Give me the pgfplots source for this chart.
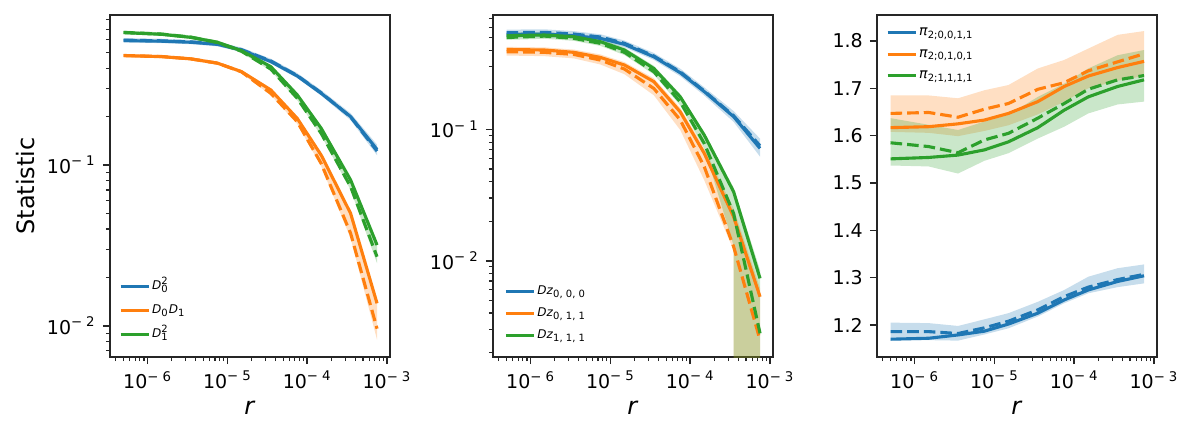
\documentclass[border=0pt]{standalone}
\usepackage{fontspec}
\setmainfont{DejaVu Sans}
\usepackage{pgfplots}
\pgfplotsset{compat=1.18}

\definecolor{tabblue}{HTML}{1F77B4}
\definecolor{taborange}{HTML}{FF7F0E}
\definecolor{tabgreen}{HTML}{2CA02C}

\newcommand{\expl}{10\textsuperscript{−\hspace{0.3em}\pgfmathparse{int(round(-\tick/2.302585093))}\pgfmathresult}}

\pgfplotsset{
  mypanel/.style={
    scale only axis, width=140pt, height=171pt,
    xmin=3.38e-7, xmax=1.09e-3,
    axis line style={line width=0.8pt, black!85},
    tick pos=left, tick align=outside,
    major tick length=3.6pt, minor tick length=2.1pt,
    major tick style={line width=0.8pt, black!85},
    minor tick style={line width=0.6pt, black!85},
    tick label style={font=\fontsize{9.5}{11}\selectfont},
    xticklabel={\expl},
    xlabel={\textit{r}},
    every axis x label/.style={at={(axis description cs:0.5,-0.149)}, anchor=center, font=\fontsize{12}{14}\selectfont},
    legend image code/.code={\draw[##1] (0pt,0pt) -- (14pt,0pt);},
    legend style={draw=none, fill=none, inner sep=0pt, font=\fontsize{6}{7}\selectfont,
      nodes={inner sep=1pt, text height=5pt, text depth=2pt}},
    legend cell align=left,
  },
  myband/.style={draw=none, fill=#1, fill opacity=0.25, forget plot},
  mysolid/.style={#1, line width=1.56pt},
  mydash/.style={#1, line width=1.56pt, dash pattern=on 5.8pt off 2.5pt, forget plot},
}

\begin{document}
\begin{tikzpicture}
\useasboundingbox (-55pt,-43.5pt) rectangle (541.5pt,178.5pt);

% ---- panel 1
\begin{axis}[mypanel, xmode=log, ymode=log, at={(0pt,0pt)}, anchor=south west,
  ymin=0.0064, ymax=0.857, yticklabel={\expl},
  ylabel={Statistic},
  every axis y label/.style={at={(axis description cs:-0.3,0.5)}, rotate=90, anchor=center, font=\fontsize{12}{14}\selectfont},
  legend style={at={(0.031,0.038)}, anchor=south west, row sep=3pt}]
\addplot[myband=tabblue] coordinates {(5e-7,0.615) (1.5e-6,0.610) (3.5e-6,0.600) (7.5e-6,0.583) (1.5e-5,0.538) (3.5e-5,0.458) (7.5e-5,0.373) (1.5e-4,0.292) (3.5e-4,0.210) (7.5e-4,0.134)
  (7.5e-4,0.115) (3.5e-4,0.190) (1.5e-4,0.270) (7.5e-5,0.347) (3.5e-5,0.427) (1.5e-5,0.504) (7.5e-6,0.547) (3.5e-6,0.564) (1.5e-6,0.573) (5e-7,0.578)} -- cycle;
\addplot[myband=taborange] coordinates {(5e-7,0.490) (1.5e-6,0.483) (3.5e-6,0.468) (7.5e-6,0.440) (1.5e-5,0.390) (3.5e-5,0.300) (7.5e-5,0.200) (1.5e-4,0.118) (3.5e-4,0.052) (7.5e-4,0.0145)
  (7.5e-4,0.0082) (3.5e-4,0.035) (1.5e-4,0.098) (7.5e-5,0.180) (3.5e-5,0.272) (1.5e-5,0.372) (7.5e-6,0.421) (3.5e-6,0.448) (1.5e-6,0.463) (5e-7,0.470)} -- cycle;
\addplot[myband=tabgreen] coordinates {(5e-7,0.685) (1.5e-6,0.668) (3.5e-6,0.640) (7.5e-6,0.595) (1.5e-5,0.527) (3.5e-5,0.418) (7.5e-5,0.279) (1.5e-4,0.173) (3.5e-4,0.083) (7.5e-4,0.033)
  (7.5e-4,0.0245) (3.5e-4,0.070) (1.5e-4,0.152) (7.5e-5,0.253) (3.5e-5,0.386) (1.5e-5,0.498) (7.5e-6,0.565) (3.5e-6,0.608) (1.5e-6,0.636) (5e-7,0.652)} -- cycle;

\addplot[mysolid=tabblue] coordinates {(5e-7,0.594) (1.5e-6,0.589) (3.5e-6,0.580) (7.5e-6,0.563) (1.5e-5,0.519) (3.5e-5,0.440) (7.5e-5,0.358) (1.5e-4,0.279) (3.5e-4,0.200) (7.5e-4,0.125)};
\addlegendentry{\textit{D}\rlap{\textsuperscript{2}}\textsubscript{0}}
\addplot[mydash=tabblue] coordinates {(5e-7,0.598) (1.5e-6,0.592) (3.5e-6,0.583) (7.5e-6,0.566) (1.5e-5,0.522) (3.5e-5,0.444) (7.5e-5,0.360) (1.5e-4,0.281) (3.5e-4,0.199) (7.5e-4,0.122)};
\addplot[mysolid=taborange] coordinates {(5e-7,0.479) (1.5e-6,0.472) (3.5e-6,0.457) (7.5e-6,0.430) (1.5e-5,0.381) (3.5e-5,0.293) (7.5e-5,0.195) (1.5e-4,0.115) (3.5e-4,0.050) (7.5e-4,0.0138)};
\addlegendentry{\textit{D}\textsubscript{0}\textit{D}\textsubscript{1}}
\addplot[mydash=taborange] coordinates {(5e-7,0.480) (1.5e-6,0.473) (3.5e-6,0.457) (7.5e-6,0.430) (1.5e-5,0.380) (3.5e-5,0.279) (7.5e-5,0.186) (1.5e-4,0.102) (3.5e-4,0.0376) (7.5e-4,0.0096)};
\addplot[mysolid=tabgreen] coordinates {(5e-7,0.666) (1.5e-6,0.650) (3.5e-6,0.622) (7.5e-6,0.580) (1.5e-5,0.514) (3.5e-5,0.409) (7.5e-5,0.273) (1.5e-4,0.169) (3.5e-4,0.0807) (7.5e-4,0.0318)};
\addlegendentry{\textit{D}\rlap{\textsuperscript{2}}\textsubscript{1}}
\addplot[mydash=tabgreen] coordinates {(5e-7,0.668) (1.5e-6,0.652) (3.5e-6,0.624) (7.5e-6,0.578) (1.5e-5,0.510) (3.5e-5,0.395) (7.5e-5,0.260) (1.5e-4,0.157) (3.5e-4,0.0733) (7.5e-4,0.0269)};
\end{axis}

% ---- panel 2
\begin{axis}[mypanel, xmode=log, ymode=log, at={(191.5pt,0pt)}, anchor=south west,
  ymin=0.00185, ymax=0.743, yticklabel={\expl},
  legend style={at={(0.039,0.035)}, anchor=south west, row sep=2pt}]
\addplot[myband=tabblue] coordinates {(5e-7,0.575) (1.5e-6,0.578) (3.5e-6,0.560) (7.5e-6,0.530) (1.5e-5,0.475) (3.5e-5,0.382) (7.5e-5,0.290) (1.5e-4,0.209) (3.5e-4,0.138) (7.5e-4,0.085)
  (7.5e-4,0.062) (3.5e-4,0.114) (1.5e-4,0.181) (7.5e-5,0.254) (3.5e-5,0.338) (1.5e-5,0.422) (7.5e-6,0.468) (3.5e-6,0.490) (1.5e-6,0.503) (5e-7,0.500)} -- cycle;
\addplot[myband=taborange] coordinates {(5e-7,0.425) (1.5e-6,0.421) (3.5e-6,0.405) (7.5e-6,0.372) (1.5e-5,0.325) (3.5e-5,0.245) (7.5e-5,0.146) (1.5e-4,0.072) (3.5e-4,0.025) (7.5e-4,0.0062)
  (7.5e-4,0.00001) (3.5e-4,0.00001) (3.5e-4,0.012) (1.5e-4,0.041) (7.5e-5,0.099) (3.5e-5,0.182) (1.5e-5,0.263) (7.5e-6,0.312) (3.5e-6,0.347) (1.5e-6,0.361) (5e-7,0.365)} -- cycle;
\addplot[myband=tabgreen] coordinates {(5e-7,0.545) (1.5e-6,0.552) (3.5e-6,0.530) (7.5e-6,0.485) (1.5e-5,0.420) (3.5e-5,0.305) (7.5e-5,0.186) (1.5e-4,0.095) (3.5e-4,0.036) (7.5e-4,0.0085)
  (7.5e-4,0.00001) (3.5e-4,0.00001) (3.5e-4,0.013) (1.5e-4,0.072) (7.5e-5,0.152) (3.5e-5,0.262) (1.5e-5,0.368) (7.5e-6,0.432) (3.5e-6,0.472) (1.5e-6,0.490) (5e-7,0.480)} -- cycle;

\addplot[mysolid=tabblue] coordinates {(5e-7,0.528) (1.5e-6,0.532) (3.5e-6,0.517) (7.5e-6,0.493) (1.5e-5,0.444) (3.5e-5,0.357) (7.5e-5,0.270) (1.5e-4,0.194) (3.5e-4,0.125) (7.5e-4,0.0717)};
\addlegendentry{\textit{Dz}\textsubscript{0, 0, 0}}
\addplot[mydash=tabblue] coordinates {(5e-7,0.545) (1.5e-6,0.548) (3.5e-6,0.532) (7.5e-6,0.505) (1.5e-5,0.452) (3.5e-5,0.362) (7.5e-5,0.274) (1.5e-4,0.196) (3.5e-4,0.127) (7.5e-4,0.075)};
\addplot[mysolid=taborange] coordinates {(5e-7,0.406) (1.5e-6,0.402) (3.5e-6,0.386) (7.5e-6,0.353) (1.5e-5,0.309) (3.5e-5,0.231) (7.5e-5,0.136) (1.5e-4,0.0657) (3.5e-4,0.0216) (7.5e-4,0.00532)};
\addlegendentry{\textit{Dz}\textsubscript{0, 1, 1}}
\addplot[mydash=taborange] coordinates {(5e-7,0.390) (1.5e-6,0.386) (3.5e-6,0.372) (7.5e-6,0.337) (1.5e-5,0.288) (3.5e-5,0.205) (7.5e-5,0.118) (1.5e-4,0.052) (3.5e-4,0.0128) (7.5e-4,0.00249)};
\addplot[mysolid=tabgreen] coordinates {(5e-7,0.517) (1.5e-6,0.523) (3.5e-6,0.508) (7.5e-6,0.465) (1.5e-5,0.402) (3.5e-5,0.291) (7.5e-5,0.177) (1.5e-4,0.0905) (3.5e-4,0.0335) (7.5e-4,0.00734)};
\addlegendentry{\textit{Dz}\textsubscript{1, 1, 1}}
\addplot[mydash=tabgreen] coordinates {(5e-7,0.501) (1.5e-6,0.513) (3.5e-6,0.493) (7.5e-6,0.452) (1.5e-5,0.386) (3.5e-5,0.275) (7.5e-5,0.162) (1.5e-4,0.0782) (3.5e-4,0.0229) (7.5e-4,0.0028)};
\end{axis}

% ---- panel 3
\begin{axis}[mypanel, xmode=log, at={(383.5pt,0pt)}, anchor=south west,
  ymin=1.1324, ymax=1.855, ytick={1.2,1.3,1.4,1.5,1.6,1.7,1.8},
  yticklabel style={/pgf/number format/fixed, /pgf/number format/precision=1,
    /pgf/number format/fixed zerofill, /pgf/number format/assume math mode=true},
  legend style={at={(0.031,0.976)}, anchor=north west, row sep=1.75pt, font=\fontsize{7}{8}\selectfont}]
\addplot[myband=tabblue] coordinates {(5e-7,1.205) (1.5e-6,1.204) (3.5e-6,1.198) (7.5e-6,1.212) (1.5e-5,1.225) (3.5e-5,1.249) (7.5e-5,1.274) (1.5e-4,1.302) (3.5e-4,1.320) (7.5e-4,1.328)
  (7.5e-4,1.288) (3.5e-4,1.280) (1.5e-4,1.267) (7.5e-5,1.246) (3.5e-5,1.218) (1.5e-5,1.193) (7.5e-6,1.180) (3.5e-6,1.167) (1.5e-6,1.168) (5e-7,1.168)} -- cycle;
\addplot[myband=taborange] coordinates {(5e-7,1.685) (1.5e-6,1.685) (3.5e-6,1.679) (7.5e-6,1.696) (1.5e-5,1.707) (3.5e-5,1.742) (7.5e-5,1.760) (1.5e-4,1.784) (3.5e-4,1.813) (7.5e-4,1.821)
  (7.5e-4,1.726) (3.5e-4,1.716) (1.5e-4,1.700) (7.5e-5,1.672) (3.5e-5,1.645) (1.5e-5,1.622) (7.5e-6,1.610) (3.5e-6,1.599) (1.5e-6,1.606) (5e-7,1.608)} -- cycle;
\addplot[myband=tabgreen] coordinates {(5e-7,1.637) (1.5e-6,1.623) (3.5e-6,1.612) (7.5e-6,1.630) (1.5e-5,1.644) (3.5e-5,1.682) (7.5e-5,1.710) (1.5e-4,1.742) (3.5e-4,1.770) (7.5e-4,1.781)
  (7.5e-4,1.672) (3.5e-4,1.666) (1.5e-4,1.647) (7.5e-5,1.619) (3.5e-5,1.594) (1.5e-5,1.563) (7.5e-6,1.547) (3.5e-6,1.520) (1.5e-6,1.535) (5e-7,1.537)} -- cycle;

\addplot[mysolid=tabblue] coordinates {(5e-7,1.170) (1.5e-6,1.172) (3.5e-6,1.179) (7.5e-6,1.187) (1.5e-5,1.202) (3.5e-5,1.225) (7.5e-5,1.253) (1.5e-4,1.274) (3.5e-4,1.292) (7.5e-4,1.304)};
\addlegendentry{\textit{π}\textsubscript{2;0,0,1,1}}
\addplot[mydash=tabblue] coordinates {(5e-7,1.186) (1.5e-6,1.186) (3.5e-6,1.182) (7.5e-6,1.194) (1.5e-5,1.208) (3.5e-5,1.232) (7.5e-5,1.260) (1.5e-4,1.280) (3.5e-4,1.296) (7.5e-4,1.307)};
\addplot[mysolid=taborange] coordinates {(5e-7,1.617) (1.5e-6,1.619) (3.5e-6,1.625) (7.5e-6,1.633) (1.5e-5,1.647) (3.5e-5,1.672) (7.5e-5,1.704) (1.5e-4,1.726) (3.5e-4,1.744) (7.5e-4,1.757)};
\addlegendentry{\textit{π}\textsubscript{2;0,1,0,1}}
\addplot[mydash=taborange] coordinates {(5e-7,1.647) (1.5e-6,1.649) (3.5e-6,1.639) (7.5e-6,1.656) (1.5e-5,1.668) (3.5e-5,1.698) (7.5e-5,1.712) (1.5e-4,1.737) (3.5e-4,1.756) (7.5e-4,1.773)};
\addplot[mysolid=tabgreen] coordinates {(5e-7,1.551) (1.5e-6,1.554) (3.5e-6,1.559) (7.5e-6,1.570) (1.5e-5,1.587) (3.5e-5,1.617) (7.5e-5,1.654) (1.5e-4,1.682) (3.5e-4,1.704) (7.5e-4,1.718)};
\addlegendentry{\textit{π}\textsubscript{2;1,1,1,1}}
\addplot[mydash=tabgreen] coordinates {(5e-7,1.585) (1.5e-6,1.577) (3.5e-6,1.564) (7.5e-6,1.591) (1.5e-5,1.605) (3.5e-5,1.637) (7.5e-5,1.668) (1.5e-4,1.698) (3.5e-4,1.718) (7.5e-4,1.727)};
\end{axis}
\end{tikzpicture}
\end{document}
